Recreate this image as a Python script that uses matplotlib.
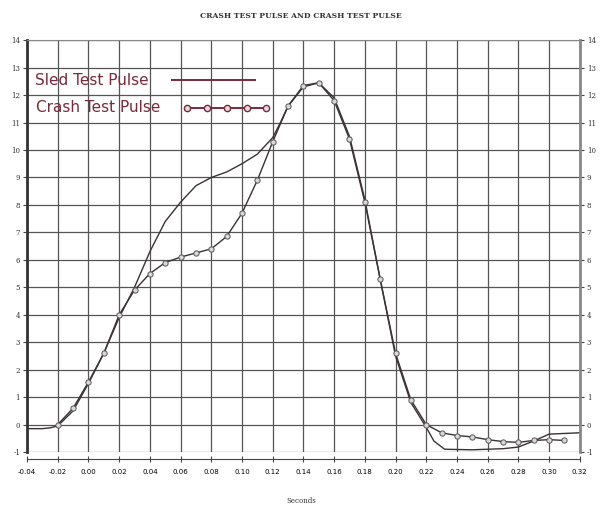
import matplotlib
matplotlib.use("Agg")
import matplotlib.pyplot as plt
import numpy as np

# ------------------------------
# Data
# ------------------------------
sled_t = [-0.04, -0.03, -0.025, -0.02, -0.01, 0.00, 0.01, 0.02, 0.03, 0.04,
          0.05, 0.06, 0.07, 0.08, 0.09, 0.10, 0.11, 0.12, 0.125, 0.13, 0.14,
          0.15, 0.16, 0.17, 0.18, 0.19, 0.20, 0.21, 0.22, 0.225, 0.232,
          0.25, 0.27, 0.28, 0.29, 0.30, 0.32]
sled_g = [-0.15, -0.15, -0.12, -0.05, 0.5, 1.5, 2.6, 3.9, 5.0, 6.3,
          7.4, 8.1, 8.7, 9.0, 9.2, 9.5, 9.85, 10.45, 11.0, 11.6, 12.3,
          12.45, 11.9, 10.5, 8.2, 5.3, 2.5, 0.8, -0.1, -0.6, -0.9,
          -0.92, -0.88, -0.82, -0.6, -0.35, -0.3]

crash_t = [-0.02, -0.01, 0.00, 0.01, 0.02, 0.03, 0.04, 0.05, 0.06, 0.07,
           0.08, 0.09, 0.10, 0.11, 0.12, 0.13, 0.14, 0.15, 0.16, 0.17,
           0.18, 0.19, 0.20, 0.21, 0.22, 0.23, 0.24, 0.25, 0.26, 0.27,
           0.28, 0.29, 0.30, 0.31]
crash_g = [0.0, 0.6, 1.55, 2.6, 4.0, 4.9, 5.5, 5.9, 6.1, 6.25,
           6.4, 6.85, 7.7, 8.9, 10.3, 11.6, 12.35, 12.45, 11.8, 10.4,
           8.1, 5.3, 2.6, 0.9, 0.0, -0.3, -0.4, -0.45, -0.55, -0.62,
           -0.65, -0.58, -0.55, -0.58]

legend_labels = ["Sled Test Pulse", "Crash Test Pulse"]

x_ticks = np.round(np.arange(-0.04, 0.321, 0.02), 2)
y_ticks = list(range(-1, 15))

line_col = "#3a3236"
legend_col = "#7a2a3a"

fig = plt.figure(figsize=(6.02, 5.09), dpi=100)
ax = fig.add_axes([0.045, 0.112, 0.918, 0.809])

ax.plot(sled_t, sled_g, color=line_col, linewidth=1.0)
ax.plot(crash_t, crash_g, color=line_col, linewidth=1.0,
        marker="o", markersize=3.8, markerfacecolor="#d8d8d8",
        markeredgecolor="#555555", markeredgewidth=0.7)

ax.set_xlim(-0.04, 0.32)
ax.set_ylim(-1, 14)
ax.set_xticks(x_ticks)
ax.set_xticklabels([f"{v:.2f}" for v in x_ticks])
ax.set_yticks(y_ticks)
ax.set_yticklabels([str(v) for v in y_ticks])
ax.tick_params(axis="y", which="both", left=True, right=True,
               labelleft=True, labelright=True, length=3, color="#444444",
               labelsize=5, pad=2)
ax.tick_params(axis="x", length=4, direction="inout", color="#444444",
               labelsize=5, pad=5)
for lbl in ax.get_xticklabels() + ax.get_yticklabels():
    lbl.set_family("serif")
    lbl.set_color("#333333")

ax.grid(True, color="#555555", linewidth=0.9)
ax.set_axisbelow(True)

ax.spines["top"].set_color("#888888")
ax.spines["left"].set_linewidth(2.0)
ax.spines["left"].set_color("#333333")
ax.spines["right"].set_linewidth(2.0)
ax.spines["right"].set_color("#888888")
ax.spines["bottom"].set_position(("outward", 5))
ax.spines["bottom"].set_color("#444444")

# legend drawn by hand: text first, sample line after it (left aligned)
ax.text(0.015, 0.903, legend_labels[0], transform=ax.transAxes, fontsize=11,
        color=legend_col, va="center", ha="left")
ax.plot([0.263, 0.412], [0.903, 0.903], transform=ax.transAxes,
        color=legend_col, linewidth=1.4)
ax.text(0.017, 0.836, legend_labels[1], transform=ax.transAxes, fontsize=11,
        color=legend_col, va="center", ha="left")
ax.plot(np.linspace(0.29, 0.433, 5), [0.836] * 5, transform=ax.transAxes,
        color=legend_col, linewidth=1.4, marker="o", markersize=4.5,
        markerfacecolor="#e6dcdc", markeredgecolor=legend_col)

fig.text(0.5, 0.968, "CRASH TEST PULSE AND CRASH TEST PULSE", ha="center",
         va="center", fontsize=5.5, family="serif", fontweight="bold",
         color="#333333")
fig.text(0.5, 0.015, "Seconds", ha="center", va="center", fontsize=5,
         family="serif", color="#333333")

fig.savefig("out.png", dpi=100)
